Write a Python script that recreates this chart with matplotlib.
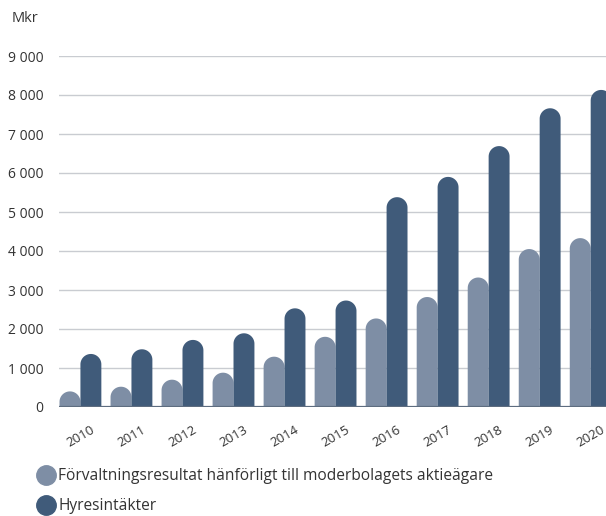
import matplotlib.pyplot as plt
from matplotlib.lines import Line2D
import numpy as np

plt.rcParams['font.family'] = ['Open Sans', 'DejaVu Sans']

# Data (Mkr)
years = ['2010', '2011', '2012', '2013', '2014', '2015', '2016', '2017', '2018', '2019', '2020']
forvaltningsresultat = [400, 520, 700, 880, 1290, 1800, 2270, 2820, 3320, 4050, 4330]
hyresintakter = [1360, 1480, 1720, 1890, 2530, 2730, 5380, 5900, 6690, 7660, 8130]

light = '#7e8ea5'
dark = '#405b7a'
text_color = '#333333'

fig = plt.figure(figsize=(6.06, 5.16), dpi=100)
ax = fig.add_axes([59 / 606, 1 - 407 / 516, 547 / 606, 351 / 516])

x = np.arange(len(years))
w = 0.41
ax.set_xlim(-0.42, 10.30)
ax.set_ylim(0, 9000)

# radius of the round caps, in y data units
x_px = ax.transData.transform((1, 0))[0] - ax.transData.transform((0, 0))[0]
y_px = ax.transData.transform((0, 1000))[1] - ax.transData.transform((0, 0))[1]
ry = (w / 2) * x_px / (y_px / 1000)
t = np.linspace(0, np.pi, 40)


def rounded_bars(xs, vals, color):
    # rectangle with a half-ellipse on top, one polygon per bar
    for xi, v in zip(xs, vals):
        top = v - ry
        px = np.concatenate([[xi - w / 2], xi - (w / 2) * np.cos(t), [xi + w / 2]])
        py = np.concatenate([[0], top + ry * np.sin(t), [0]])
        ax.fill(px, py, color=color, lw=0, zorder=2)


rounded_bars(x - w / 2, forvaltningsresultat, light)
rounded_bars(x + w / 2, hyresintakter, dark)

ax.axhline(0, color='#5e6d80', lw=1.6, zorder=3)
yt = np.arange(0, 9001, 1000)
ax.set_yticks(yt)
ax.set_yticklabels([f'{v:,}'.replace(',', ' ') for v in yt], fontsize=10, color=text_color)
ax.yaxis.grid(True, color='#c9ccd1', lw=1)
ax.set_axisbelow(True)
ax.tick_params(axis='y', length=0, pad=11)

ax.set_xticks(x)
ax.set_xticklabels(years, rotation=30, fontsize=9.5, color=text_color, ha='center')
ax.tick_params(axis='x', length=0, pad=12)

for s in ax.spines.values():
    s.set_visible(False)

fig.text(12 / 606, 1 - 18 / 516, 'Mkr', fontsize=10.5, color=text_color, va='center')

handles = [
    Line2D([], [], marker='o', ls='none', markersize=14, color=light),
    Line2D([], [], marker='o', ls='none', markersize=14, color=dark),
]
labels = ['Förvaltningsresultat hänförligt till moderbolagets aktieägare', 'Hyresintäkter']
fig.legend(handles, labels, loc='upper left', bbox_to_anchor=(28 / 606, 1 - 462 / 516),
           frameon=False, fontsize=11.2, labelcolor=text_color, handletextpad=0.05,
           labelspacing=0.9, borderaxespad=0, handlelength=1.5)

fig.savefig('out.png', dpi=100)
